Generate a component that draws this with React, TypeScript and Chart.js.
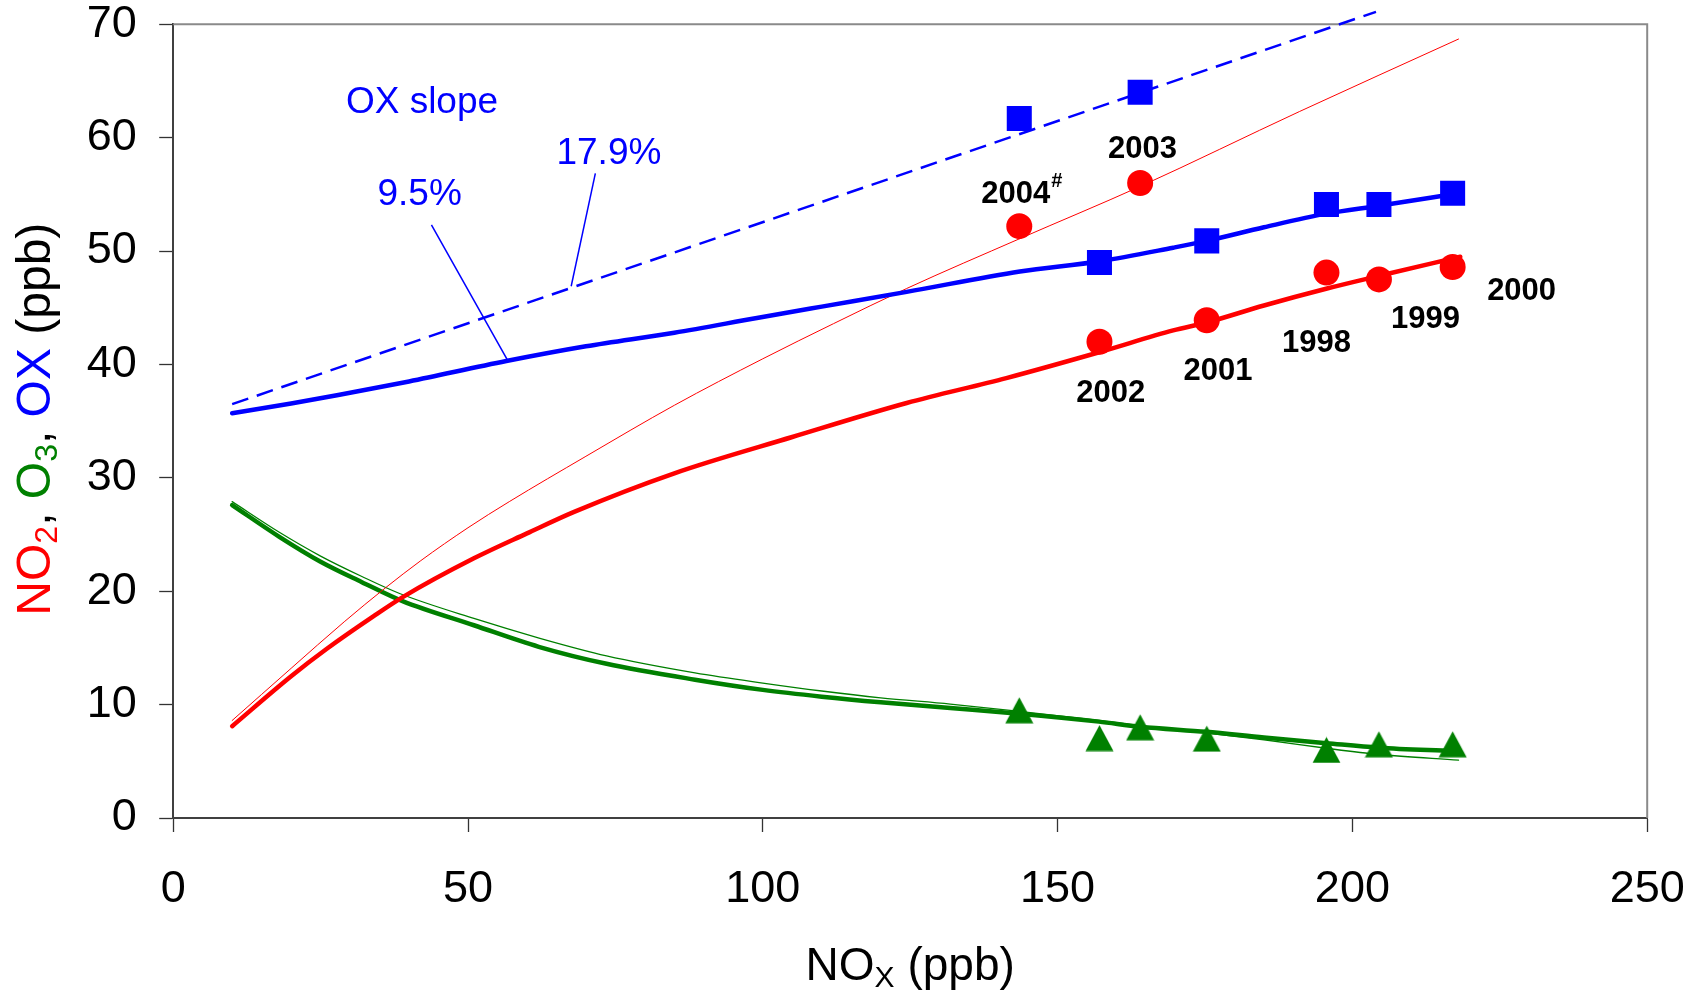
import React, { useEffect, useRef } from 'react';
import { Chart, registerables } from 'chart.js';

Chart.register(...registerables);

const FONT = "'Liberation Sans', Arial, Helvetica, sans-serif";
const BLUE = '#0000ff';
const RED = '#ff0000';
const GREEN = '#008000';

// ---- Observed yearly values (NOx on x) ----
const yearLabels = ['2004', '2003', '2002', '2001', '1998', '1999', '2000'];
const noxObs = [143.5, 164.0, 157.1, 175.3, 195.6, 204.5, 217.0];
const oxObs = [61.7, 64.0, 49.0, 50.9, 54.1, 54.1, 55.1];
const no2Obs = [52.2, 56.0, 42.0, 43.9, 48.1, 47.5, 48.6];
const o3Obs = [9.5, 8.0, 7.05, 7.0, 6.0, 6.5, 6.5];

// ---- Fitted curves ----
const oxFitX = [10, 20, 28, 40, 56.5, 70, 85, 99, 110, 124.4, 143.6, 157.2, 169.6, 175.3, 185, 195.6, 204.5, 218];
const oxFitY = [35.7, 36.55, 37.3, 38.5, 40.3, 41.6, 42.8, 44.1, 45.1, 46.4, 48.2, 49.1, 50.3, 50.9, 52.1, 53.3, 54.0, 55.1];

const oxSlopeX = [10, 204];
const oxSlopeY = [36.5, 71.1];

const no2FitX = [10, 20, 26, 34, 39, 51, 60, 68, 85, 105, 124.4, 141.3, 157.2, 169.6, 175.3, 185, 195.7, 204.4, 218.3];
const no2FitY = [8.1, 12.5, 14.9, 17.8, 19.5, 22.9, 25.1, 27.0, 30.4, 33.6, 36.6, 38.8, 41.1, 43.0, 43.7, 45.2, 46.7, 47.8, 49.5];

const no2ThinX = [10, 20, 29, 36, 42, 50, 57, 70, 85, 100, 112, 124.4, 143.6, 164, 191, 218];
const no2ThinY = [8.6, 13.2, 17.3, 20.3, 22.7, 25.6, 27.9, 31.9, 36.4, 40.5, 43.6, 46.7, 51.1, 55.7, 62.3, 68.7];

const o3FitX = [10, 18, 25, 32, 39, 51, 62, 73.5, 88.5, 100, 110, 120, 131.8, 143.5, 157, 164, 175.2, 185, 195.6, 204.5, 217];
const o3FitY = [27.6, 24.8, 22.6, 20.8, 19.1, 17.0, 15.1, 13.6, 12.2, 11.3, 10.7, 10.2, 9.7, 9.2, 8.5, 8.05, 7.6, 7.1, 6.6, 6.2, 5.9];

const o3ThinX = [10, 18, 25, 32, 38.4, 51, 62.2, 73.5, 88.5, 100, 110, 120, 131.8, 143.5, 157, 164, 175.2, 185, 195.6, 204.5, 218];
const o3ThinY = [27.9, 25.2, 23.1, 21.3, 19.8, 17.6, 15.85, 14.3, 12.8, 11.9, 11.2, 10.6, 10.05, 9.4, 8.6, 8.15, 7.5, 6.9, 6.15, 5.6, 5.1];

// ---- Axis ticks ----
const xTicks = [0, 50, 100, 150, 200, 250];
const yTicks = [0, 10, 20, 30, 40, 50, 60, 70];

// ---- Annotation placement (data units: label centre x, baseline y) ----
const yearLabelX = [142.9, 164.4, 159.0, 177.2, 193.9, 212.4, 228.7];
const yearLabelY = [54.26, 58.2, 36.7, 38.6, 41.1, 43.2, 45.7];
const slopeTexts = ['OX slope', '9.5%', '17.9%'];
const slopeTextX = [42.2, 41.8, 73.9];
const slopeTextY = [62.2, 54.1, 57.7];
const leaderLines = [
  [43.8, 52.3, 56.8, 40.3],
  [71.6, 56.85, 67.5, 46.9],
];

const pts = (xs: number[], ys: number[]) => xs.map((x, i) => ({ x, y: ys[i] }));

type Seg = { t: string; c: string; sub?: boolean };

function drawSegments(ctx: CanvasRenderingContext2D, segs: Seg[], size: number, subSize: number, subOff: number, cx: number) {
  const widths = segs.map((s) => {
    ctx.font = `${s.sub ? subSize : size}px ${FONT}`;
    return ctx.measureText(s.t).width;
  });
  const total = widths.reduce((a, b) => a + b, 0);
  let x = cx - total / 2;
  ctx.textAlign = 'left';
  ctx.textBaseline = 'alphabetic';
  segs.forEach((s, i) => {
    ctx.font = `${s.sub ? subSize : size}px ${FONT}`;
    ctx.fillStyle = s.c;
    ctx.fillText(s.t, x, s.sub ? subOff : 0);
    x += widths[i];
  });
}

const annotPlugin = {
  id: 'annot',
  beforeDatasetsDraw(chart: any) {
    const { ctx, chartArea: a } = chart;
    ctx.save();
    ctx.strokeStyle = '#8a8a8a';
    ctx.lineWidth = 2;
    ctx.beginPath();
    ctx.moveTo(a.left, a.top);
    ctx.lineTo(a.right, a.top);
    ctx.lineTo(a.right, a.bottom);
    ctx.stroke();
    ctx.restore();
  },
  afterDraw(chart: any) {
    const { ctx, chartArea: a } = chart;
    const xs = chart.scales.x;
    const ys = chart.scales.y;
    ctx.save();

    // year labels
    ctx.fillStyle = '#000';
    ctx.textBaseline = 'alphabetic';
    yearLabels.forEach((lab, i) => {
      const px = xs.getPixelForValue(yearLabelX[i]);
      const py = ys.getPixelForValue(yearLabelY[i]);
      ctx.font = `bold 31px ${FONT}`;
      ctx.textAlign = 'center';
      ctx.fillText(lab, px, py);
      if (i === 0) {
        const w = ctx.measureText(lab).width;
        ctx.font = `bold 20px ${FONT}`;
        ctx.textAlign = 'left';
        ctx.fillText('#', px + w / 2 + 1, py - 16);
      }
    });

    // slope annotations
    ctx.fillStyle = BLUE;
    ctx.font = `37px ${FONT}`;
    ctx.textAlign = 'center';
    slopeTexts.forEach((t, i) => {
      ctx.fillText(t, xs.getPixelForValue(slopeTextX[i]), ys.getPixelForValue(slopeTextY[i]));
    });
    ctx.strokeStyle = BLUE;
    ctx.lineWidth = 1.5;
    leaderLines.forEach(([x1, y1, x2, y2]) => {
      ctx.beginPath();
      ctx.moveTo(xs.getPixelForValue(x1), ys.getPixelForValue(y1));
      ctx.lineTo(xs.getPixelForValue(x2), ys.getPixelForValue(y2));
      ctx.stroke();
    });

    // x axis title
    ctx.save();
    ctx.translate(0, 980);
    drawSegments(
      ctx,
      [
        { t: 'NO', c: '#000' },
        { t: 'X', c: '#000', sub: true },
        { t: ' (ppb)', c: '#000' },
      ],
      46,
      30,
      7,
      (a.left + a.right) / 2
    );
    ctx.restore();

    // y axis title
    ctx.save();
    ctx.translate(50, (a.top + a.bottom) / 2 - 2);
    ctx.rotate(-Math.PI / 2);
    drawSegments(
      ctx,
      [
        { t: 'NO', c: RED },
        { t: '2', c: RED, sub: true },
        { t: ', ', c: '#000' },
        { t: 'O', c: GREEN },
        { t: '3', c: GREEN, sub: true },
        { t: ', ', c: '#000' },
        { t: 'OX', c: BLUE },
        { t: ' (ppb)', c: '#000' },
      ],
      48,
      32,
      7,
      0
    );
    ctx.restore();

    ctx.restore();
  },
};

const zeroPad = (s: any) => {
  s.paddingTop = 0;
  s.paddingBottom = 0;
  s.paddingLeft = 0;
  s.paddingRight = 0;
};

export default function App() {
  const ref = useRef<HTMLCanvasElement | null>(null);

  useEffect(() => {
    const canvas = ref.current;
    if (!canvas) return;

    const tri = document.createElement('canvas');
    tri.width = 29;
    tri.height = 27;
    const tctx = tri.getContext('2d')!;
    tctx.fillStyle = GREEN;
    tctx.beginPath();
    tctx.moveTo(14.5, 0.5);
    tctx.lineTo(28.5, 26.5);
    tctx.lineTo(0.5, 26.5);
    tctx.closePath();
    tctx.fill();

    const lineDs = (label: string, data: any[], color: string, width: number, extra: any = {}) => ({
      label,
      data,
      showLine: true,
      borderColor: color,
      backgroundColor: color,
      borderWidth: width,
      pointRadius: 0,
      borderCapStyle: 'round',
      borderJoinStyle: 'round',
      cubicInterpolationMode: 'monotone',
      order: 2,
      ...extra,
    });

    const chart = new Chart(canvas, {
      type: 'scatter',
      data: {
        datasets: [
          {
            label: 'OX observed',
            data: pts(noxObs, oxObs),
            pointStyle: 'rect',
            pointRadius: 17.7,
            backgroundColor: BLUE,
            borderColor: BLUE,
            borderWidth: 0,
            order: 0,
          },
          {
            label: 'NO2 observed',
            data: pts(noxObs, no2Obs),
            pointStyle: 'circle',
            pointRadius: 13,
            backgroundColor: RED,
            borderColor: RED,
            borderWidth: 0,
            order: 0,
          },
          {
            label: 'O3 observed',
            data: pts(noxObs, o3Obs),
            pointStyle: tri,
            pointRadius: 14,
            backgroundColor: GREEN,
            borderColor: GREEN,
            borderWidth: 0,
            order: 0,
          },
          lineDs('OX slope', pts(oxSlopeX, oxSlopeY), BLUE, 2.5, {
            borderDash: [17, 9],
            borderCapStyle: 'butt',
            clip: false,
            cubicInterpolationMode: 'default',
            tension: 0,
          }),
          lineDs('OX fit', pts(oxFitX, oxFitY), BLUE, 4.5),
          lineDs('NO2 fit', pts(no2FitX, no2FitY), RED, 4.5),
          lineDs('NO2 model', pts(no2ThinX, no2ThinY), RED, 1),
          lineDs('O3 fit', pts(o3FitX, o3FitY), GREEN, 4.5),
          lineDs('O3 model', pts(o3ThinX, o3ThinY), GREEN, 1.3),
        ],
      },
      options: {
        responsive: false,
        animation: false,
        events: [],
        layout: { padding: { left: 0, top: 24.3, right: 49.8, bottom: 0 } },
        plugins: {
          legend: { display: false },
          tooltip: { enabled: false },
        },
        scales: {
          x: {
            type: 'linear',
            min: 0,
            max: 250,
            afterFit: (s: any) => {
              s.height = 174;
              zeroPad(s);
            },
            afterBuildTicks: (s: any) => {
              s.ticks = xTicks.map((v) => ({ value: v }));
            },
            grid: { drawOnChartArea: false, drawTicks: true, tickLength: 14, tickColor: '#333', tickWidth: 1.3 },
            border: { display: true, color: '#404040', width: 2 },
            ticks: {
              color: '#000',
              font: { family: FONT, size: 45, lineHeight: 1 },
              padding: 35,
              maxRotation: 0,
              autoSkip: false,
            },
          },
          y: {
            type: 'linear',
            min: 0,
            max: 70,
            afterFit: (s: any) => {
              s.width = 173.2;
              zeroPad(s);
            },
            afterBuildTicks: (s: any) => {
              s.ticks = yTicks.map((v) => ({ value: v }));
            },
            grid: { drawOnChartArea: false, drawTicks: true, tickLength: 14, tickColor: '#333', tickWidth: 1.3 },
            border: { display: true, color: '#404040', width: 2 },
            ticks: {
              color: '#000',
              font: { family: FONT, size: 45, lineHeight: 1 },
              padding: 22.5,
              autoSkip: false,
            },
          },
        },
      } as any,
      plugins: [annotPlugin],
    });

    return () => chart.destroy();
  }, []);

  return (
    <div style={{ position: 'absolute', left: 0, top: 0, width: 1697, height: 992, background: '#fff' }}>
      <canvas ref={ref} width={1697} height={992} style={{ width: 1697, height: 992, display: 'block' }} />
    </div>
  );
}
